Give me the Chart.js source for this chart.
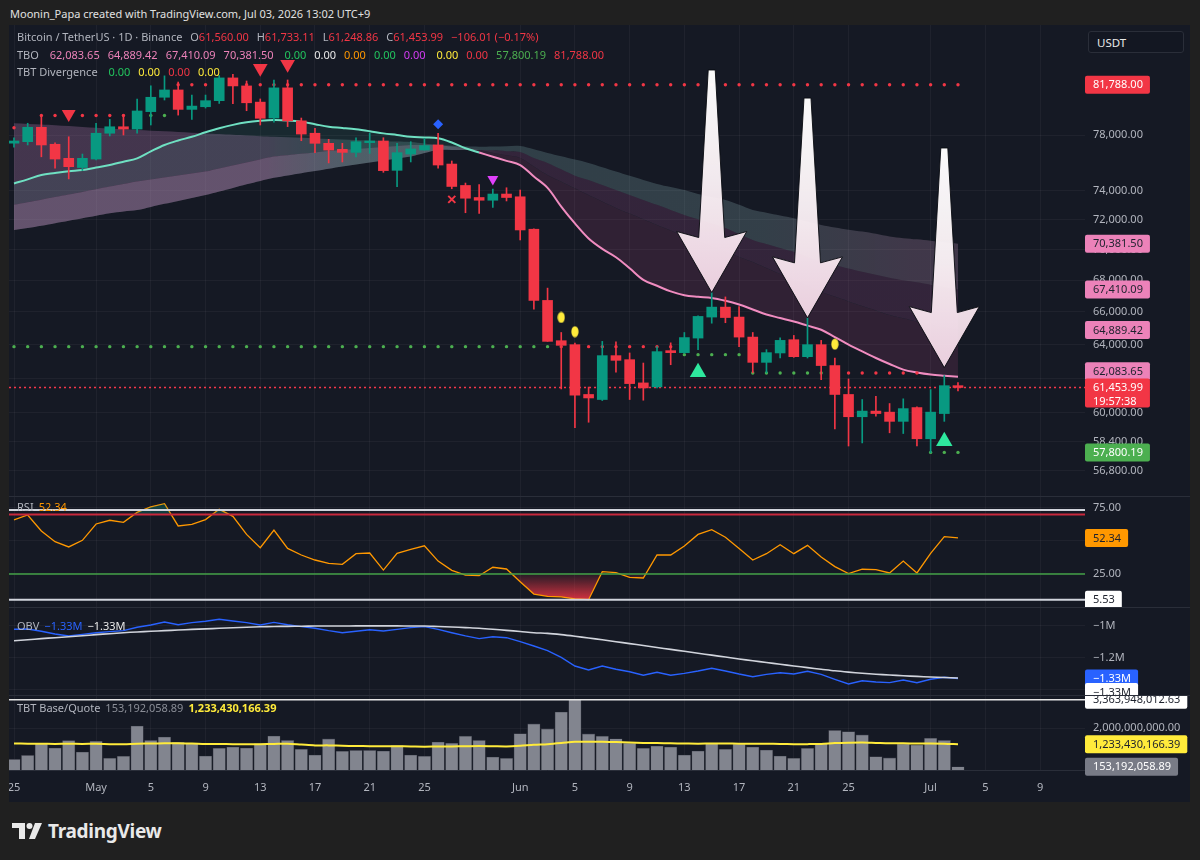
<!DOCTYPE html>
<html lang="en">
<head>
<meta charset="utf-8" />
<title>Bitcoin / TetherUS 1D - TBO</title>
<script src="https://cdn.jsdelivr.net/npm/chart.js@4.4.1/dist/chart.umd.min.js"></script>
<style>
    html, body { margin: 0; padding: 0; background: #202020; }
    #page { position: relative; width: 1200px; height: 860px; overflow: hidden; font-family: "Noto Sans", "DejaVu Sans", sans-serif; }
    .hdr { position: absolute; left: 10px; top: 6px; font-size: 11px; line-height: 16px; color: #e0e0e0; }
    #panel { position: absolute; left: 9px; top: 25px; width: 1181px; height: 777px; background: #151924; }
    canvas { position: absolute; left: 9px; }
    .sep { position: absolute; left: 9px; width: 1181px; height: 1px; background: #2a2e39; }
    .lg { position: absolute; left: 17px; font-size: 11px; line-height: 16px; color: #b2b5be; white-space: nowrap; z-index: 3; }
    .lg span { margin-left: 5px; }
    .lg.wide span { margin-left: 8px; }
    .lg span.n { margin-left: 0; }
    .r { color: #f23645; } .pk { color: #ec82b9; } .g { color: #22c55e; } .w { color: #e8e8e8; }
    .o { color: #ff9800; } .m { color: #d53cf5; } .y { color: #ffeb3b; } .gg { color: #4caf50; } .b { color: #2962ff; }
    .usdt { position: absolute; left: 1088px; top: 31px; width: 96px; height: 22px; border: 1px solid #2a2e39; border-radius: 3px;
            background: #131722; color: #e8e8e8; font-size: 11.5px; line-height: 22px; box-sizing: border-box; padding-left: 8px; z-index: 3; }
    .logo { position: absolute; left: 12px; top: 820px; height: 22px; display: flex; align-items: center; color: #e9e9e9;
            font-weight: 700; font-size: 19px; letter-spacing: -0.3px; }
    .logo svg { margin-right: 6px; }
</style>
</head>
<body>
<div id="page">
    <div class="hdr">Moonin_Papa created with TradingView.com, Jul 03, 2026 13:02 UTC+9</div>
    <div id="panel"></div>

    <canvas id="mainChart" width="1181" height="471" style="top:25px"></canvas>
    <div class="sep" style="top:496px"></div>
    <canvas id="rsiChart" width="1181" height="110" style="top:497px"></canvas>
    <div class="sep" style="top:607px"></div>
    <canvas id="obvChart" width="1181" height="87" style="top:608px"></canvas>
    <div class="sep" style="top:695px"></div>
    <canvas id="volChart" width="1181" height="106" style="top:696px"></canvas>

    <!-- legends -->
    <div class="lg" style="top:29px"><span class="n">Bitcoin / TetherUS · 1D · Binance</span>
        <span>O<b class="r" style="font-weight:400">61,560.00</b></span>
        <span>H<b class="r" style="font-weight:400">61,733.11</b></span>
        <span>L<b class="r" style="font-weight:400">61,248.86</b></span>
        <span>C<b class="r" style="font-weight:400">61,453.99</b></span>
        <span class="r">−106.01 (−0.17%)</span></div>
    <div class="lg wide" style="top:47px"><span class="n">TBO</span>
        <span class="pk">62,083.65</span><span class="pk">64,889.42</span><span class="pk">67,410.09</span><span class="pk">70,381.50</span>
        <span class="g">0.00</span><span class="w">0.00</span><span class="o">0.00</span><span class="g">0.00</span><span class="m">0.00</span>
        <span class="y">0.00</span><span class="r">0.00</span><span class="gg">57,800.19</span><span class="r">81,788.00</span></div>
    <div class="lg wide" style="top:64px"><span class="n">TBT Divergence</span>
        <span class="g">0.00</span><span class="y">0.00</span><span class="r">0.00</span><span class="y">0.00</span></div>
    <div class="lg" style="top:499px"><span class="n">RSI</span><span class="o">52.34</span></div>
    <div class="lg" style="top:618px"><span class="n">OBV</span><span class="b">−1.33M</span><span class="w">−1.33M</span></div>
    <div class="lg" style="top:700px"><span class="n">TBT Base/Quote</span><span style="color:#8a8d96">153,192,058.89</span><span class="y" style="font-weight:700">1,233,430,166.39</span></div>

    <div class="usdt">USDT</div>

    <div class="logo">
        <svg width="30" height="18" viewBox="0 0 30 18"><path d="M0 1h13v16H7V6H0z" fill="#e9e9e9"/><circle cx="17.5" cy="4" r="3" fill="#e9e9e9"/><path d="M23 1h7l-7 16h-6z" fill="#e9e9e9"/></svg>
        TradingView
    </div>
</div>

<script>
    // ---- date axis (bar index 0 = Apr 25) ----
    var dateTickIdx = [0, 6, 10, 14, 18, 22, 26, 30, 37, 41, 45, 49, 53, 57, 61, 67, 71, 75];
    var dateTickLabel = ['25', 'May', '5', '9', '13', '17', '21', '25', 'Jun', '5', '9', '13', '17', '21', '25', 'Jul', '5', '9'];

    // ---- daily candles ----
    var openPx = [77400, 77510, 78570, 77320, 76300, 75640, 76250, 78130, 78610, 78440,
        79740, 80830, 81390, 79910, 80110, 80570, 82320, 81700, 80460, 79260,
        81550, 79050, 78130, 77390, 76950, 76730, 77440, 77560, 75440, 76610,
        76900, 77270, 75890, 74370, 73530, 73340, 73770, 73580, 71360, 66720,
        64230, 63990, 61050, 60760, 63330, 63090, 61720, 61490, 63630, 63510,
        64390, 65680, 66300, 65680, 64450, 62930, 63490, 64290, 63270, 63990,
        62740, 61050, 59780, 60100, 60040, 59520, 60300, 58550, 59960, 61560];
    var highPx = [77800, 78870, 79480, 77430, 77870, 76610, 78870, 79160, 79530, 80700,
        81710, 82480, 82000, 81000, 81000, 82500, 82600, 82080, 80700, 82160,
        82160, 79260, 78500, 77680, 77390, 77800, 78130, 77800, 77390, 77510,
        77750, 78130, 76110, 74540, 74440, 74120, 74210, 74050, 71380, 67500,
        64730, 64090, 61480, 64190, 64160, 63490, 62890, 63870, 64100, 64730,
        65760, 67220, 66940, 66340, 64730, 63690, 64400, 64550, 65630, 64250,
        63190, 61950, 60760, 60950, 60530, 60800, 60340, 61330, 62150, 61733.11];
    var lowPx = [77100, 77270, 76410, 75590, 74830, 75430, 76180, 77930, 78000, 78130,
        78740, 80620, 79480, 79160, 80010, 80360, 80340, 79810, 78740, 78960,
        78620, 77580, 76710, 75970, 76040, 76410, 76660, 75300, 74290, 76040,
        76900, 75590, 74140, 72480, 72440, 72840, 73290, 70640, 66170, 64190,
        61370, 59160, 59470, 60700, 62350, 60760, 60720, 61430, 62790, 63470,
        63690, 65300, 65330, 63870, 62310, 62310, 63190, 63230, 63190, 61910,
        59100, 58150, 58320, 59810, 58880, 58840, 58150, 57780, 59520, 61248.86];
    var closePx = [77560, 78570, 77270, 76250, 75700, 76300, 78130, 78610, 78440, 79790,
        80830, 81390, 79910, 80160, 80570, 82320, 81700, 80410, 79240, 81550,
        79050, 78070, 77390, 76900, 76730, 77510, 77560, 75420, 76710, 76980,
        77220, 75820, 74300, 73480, 73340, 73770, 73530, 71310, 66720, 64190,
        63950, 61010, 60850, 63330, 63050, 61680, 61430, 63570, 63510, 64420,
        65720, 66300, 65650, 64450, 62930, 63510, 64250, 63270, 63990, 62740,
        61050, 59780, 60100, 59960, 59520, 60240, 58550, 60040, 61560, 61453.99];

    // ---- TBO ribbon lines ----
    var tboFast = [74510, 74800, 75110, 75250, 75380, 75460, 75640, 75820, 76050, 76300,
        76800, 77270, 77600, 77870, 78200, 78500, 78750, 78940, 79050, 79110,
        79080, 78990, 78800, 78610, 78520, 78420, 78280, 78120, 78000, 77870,
        77820, 77760, 77450, 77030, 76720, 76420, 76120, 75820, 75000, 74200,
        72900, 71750, 70740, 70050, 69500, 68780, 68030, 67650, 67290, 67050,
        66950, 66880, 66700, 66460, 66150, 65840, 65620, 65400, 65150, 64900,
        64450, 63990, 63580, 63190, 62830, 62500, 62330, 62210, 62140, 62083.65];
    var tboMed = [73020, 73200, 73380, 73560, 73740, 73920, 74110, 74290, 74470, 74650,
        74790, 74930, 75080, 75220, 75350, 75570, 75790, 76000, 76220, 76430,
        76530, 76630, 76730, 76830, 76900, 76980, 77050, 77120, 77190, 77270,
        77270, 77270, 77150, 77030, 76900, 76710, 76520, 76330, 75720, 75110,
        74640, 74170, 73700, 73250, 72810, 72420, 72030, 71650, 71280, 70910,
        70550, 70200, 69850, 69520, 69190, 68800, 68410, 68030, 67640, 67250,
        66960, 66660, 66370, 66090, 65810, 65610, 65400, 65200, 65040, 64889.42];
    var tboSlow = [71310, 71450, 71600, 71770, 71940, 72110, 72280, 72450, 72570, 72670,
        72880, 73090, 73290, 73500, 73700, 73950, 74200, 74450, 74690, 74910,
        75080, 75240, 75390, 75550, 75710, 75860, 76000, 76140, 76290, 76430,
        76680, 76900, 76900, 76900, 76900, 76880, 76820, 76750, 76320, 75970,
        75510, 75060, 74750, 74400, 74050, 73700, 73360, 73020, 72670, 72330,
        72040, 71750, 71450, 71040, 70640, 70370, 70110, 69850, 69520, 69190,
        68970, 68760, 68550, 68360, 68170, 68010, 67870, 67720, 67560, 67410.09];
    var tboSlowest = [78870, 78820, 78770, 78720, 78660, 78600, 78540, 78480, 78420, 78370,
        78320, 78270, 78220, 78170, 78120, 78070, 78010, 77960, 77910, 77870,
        77830, 77790, 77750, 77710, 77670, 77630, 77590, 77550, 77520, 77490,
        77380, 77270, 77220, 77170, 77140, 77160, 77180, 77190, 76950, 76690,
        76450, 76210, 75970, 75660, 75350, 75050, 74760, 74480, 74260, 74050,
        73780, 73560, 73360, 73020, 72670, 72480, 72290, 72110, 71880, 71650,
        71480, 71330, 71200, 71050, 70870, 70760, 70680, 70580, 70480, 70381.5];

    // ---- TBO stepped levels (dots); side: r = resistance, g = support ----
    var upperLevel = [78540, null, 79450, 79450, 79450, 79450, 79450, 79450, 79450, 79450,
        79450, 79450, 81788, 81788, 81788, 81788, 81788, 81788, 81788, 81788,
        81788, 81788, 81788, 81788, 81788, 81788, 81788, 81788, 81788, 81788,
        81788, 81788, 81788, 81788, 81788, 81788, 81788, 81788, 81788, 81788,
        81788, 81788, 81788, 81788, 81788, 81788, 81788, 81788, 81788, 81788,
        81788, 81788, 81788, 81788, 81788, 81788, 81788, 81788, 81788, 81788,
        81788, 81788, 81788, 81788, 81788, 81788, 81788, 81788, 81788, 81788];
    var upperSide = ['r', 'r', 'r', 'r', 'r', 'r', 'r', 'r', 'r', 'g',
        'g', 'g', 'r', 'r', 'r', 'r', 'r', 'r', 'r', 'r',
        'r', 'r', 'r', 'r', 'r', 'r', 'r', 'r', 'r', 'r',
        'r', 'r', 'r', 'r', 'r', 'r', 'r', 'r', 'r', 'r',
        'r', 'r', 'r', 'r', 'r', 'r', 'r', 'r', 'r', 'r',
        'r', 'r', 'r', 'r', 'r', 'r', 'r', 'r', 'r', 'r',
        'r', 'r', 'r', 'r', 'r', 'r', 'r', 'r', 'r', 'r'];
    var lowerLevel = [63870, 63870, 63870, 63870, 63870, 63870, 63870, 63870, 63870, 63870,
        63870, 63870, 63870, 63870, 63870, 63870, 63870, 63870, 63870, 63870,
        63870, 63870, 63870, 63870, 63870, 63870, 63870, 63870, 63870, 63870,
        63870, 63870, 63870, 63870, 63870, 63870, 63870, 63870, 63870, 63870,
        63870, 63870, 63870, 63870, 63870, 63870, 63870, 63870, 63870, 63390,
        63390, 63390, 63390, 63390, 62300, 62300, 62300, 62300, 62300, 62300,
        62300, 62300, 62300, 62300, 62300, 62300, 62300, 57800.19, 57800.19, 57800.19];
    var lowerSide = ['g', 'g', 'g', 'g', 'g', 'g', 'g', 'g', 'g', 'g',
        'g', 'g', 'g', 'g', 'g', 'g', 'g', 'g', 'g', 'g',
        'g', 'g', 'g', 'g', 'g', 'g', 'g', 'g', 'g', 'g',
        'g', 'g', 'g', 'g', 'g', 'g', 'g', 'g', 'g', 'g',
        'r', 'r', 'r', 'r', 'r', 'r', 'r', 'r', 'r', 'g',
        'g', 'g', 'g', 'g', 'g', 'g', 'g', 'g', 'g', 'g',
        'r', 'r', 'r', 'r', 'r', 'r', 'r', 'g', 'g', 'g'];

    // ---- signal markers ----
    var markerIdx = [4, 18, 20, 31, 32, 35, 40, 41, 50, 60, 68];
    var markerPrice = [79560, 83070, 83380, 78790, 73400, 74810, 65660, 64780, 62340, 64020, 58410];
    var markerKind = ['sellSmall', 'sell', 'sell', 'diamond', 'cross', 'magenta', 'oval', 'oval', 'buy', 'oval', 'buy'];

    // ---- hand-drawn arrows (bar index, price at tail, price at tip) ----
    var arrowIdx = [51, 58, 68];
    var arrowTail = [82940, 80770, 77050];
    var arrowTip = [67220, 65630, 62620];

    var priceTicks = [78000, 74000, 72000, 70000, 68000, 66000, 64000, 62000, 60000, 58400, 56800];

    // ---- RSI ----
    var rsi = [66.0, 69.7, 57.6, 49.5, 45.5, 50.5, 62.9, 65.7, 64.1, 71.7,
        75.8, 78.3, 61.4, 62.6, 66.2, 74.0, 68.7, 55.0, 44.9, 58.3,
        44.4, 39.4, 35.6, 33.1, 32.3, 40.4, 40.9, 28.0, 40.7, 43.7,
        46.4, 34.8, 27.8, 24.2, 23.7, 30.1, 28.8, 19.2, 9.8, 8.1,
        7.6, 6.1, 5.53, 26.8, 26.0, 22.5, 22.0, 39.4, 39.4, 46.2,
        55.0, 58.6, 52.8, 44.4, 35.6, 40.4, 47.2, 40.4, 46.7, 37.9,
        30.6, 25.3, 28.6, 28.3, 25.8, 34.8, 25.8, 40.7, 53.3, 52.34];
    var rsiBands = [73.5, 70, 25];

    // ---- OBV (millions) ----
    var obv = [-1.022, -1.021, -1.035, -1.052, -1.064, -1.054, -1.044, -1.037, -1.031, -1.010,
        -0.996, -0.977, -0.994, -0.981, -0.972, -0.960, -0.971, -0.981, -0.996, -0.979,
        -0.994, -1.006, -1.016, -1.031, -1.044, -1.035, -1.025, -1.033, -1.023, -1.012,
        -1.006, -1.023, -1.044, -1.064, -1.081, -1.069, -1.075, -1.100, -1.127, -1.156,
        -1.198, -1.252, -1.277, -1.252, -1.272, -1.288, -1.310, -1.291, -1.310, -1.298,
        -1.283, -1.266, -1.283, -1.302, -1.319, -1.304, -1.294, -1.302, -1.285, -1.304,
        -1.335, -1.364, -1.344, -1.352, -1.356, -1.339, -1.356, -1.335, -1.322, -1.330];
    var obvMa = [-1.094, -1.088, -1.081, -1.075, -1.069, -1.063, -1.056, -1.050, -1.044, -1.039,
        -1.035, -1.031, -1.027, -1.023, -1.020, -1.016, -1.013, -1.010, -1.007, -1.005,
        -1.004, -1.003, -1.002, -1.002, -1.002, -1.001, -1.001, -1.001, -1.001, -1.002,
        -1.002, -1.005, -1.008, -1.012, -1.016, -1.022, -1.029, -1.036, -1.044, -1.048,
        -1.056, -1.066, -1.077, -1.088, -1.100, -1.112, -1.124, -1.136, -1.148, -1.160,
        -1.172, -1.184, -1.196, -1.208, -1.219, -1.230, -1.241, -1.252, -1.262, -1.272,
        -1.282, -1.290, -1.297, -1.303, -1.308, -1.313, -1.317, -1.321, -1.324, -1.327];

    // ---- TBT Base/Quote volume (billions) ----
    var volume = [0.51, 0.70, 1.27, 1.05, 1.41, 0.86, 1.38, 0.56, 0.66, 2.11,
        1.42, 1.58, 1.33, 1.29, 0.67, 1.04, 1.10, 1.05, 1.27, 1.63,
        1.42, 0.99, 0.72, 1.49, 0.90, 0.94, 0.94, 0.91, 1.18, 0.72,
        0.66, 1.34, 1.28, 1.62, 1.42, 0.62, 0.56, 1.74, 2.21, 1.97,
        2.78, 3.36394801263, 1.73, 1.62, 1.50, 1.28, 1.04, 1.15, 1.10, 0.72,
        0.91, 1.27, 0.99, 1.25, 1.10, 0.96, 0.67, 0.56, 1.04, 1.27,
        1.90, 1.84, 1.68, 0.64, 0.58, 1.25, 1.20, 1.52, 1.42, 0.15319205889];
    var volMa = [1.27, 1.26, 1.26, 1.25, 1.26, 1.25, 1.26, 1.24, 1.23, 1.26,
        1.27, 1.28, 1.28, 1.27, 1.25, 1.25, 1.24, 1.24, 1.24, 1.25,
        1.26, 1.22, 1.18, 1.18, 1.16, 1.15, 1.14, 1.14, 1.14, 1.13,
        1.12, 1.13, 1.13, 1.14, 1.15, 1.14, 1.13, 1.16, 1.21, 1.24,
        1.29, 1.35, 1.36, 1.35, 1.34, 1.32, 1.30, 1.29, 1.28, 1.27,
        1.26, 1.27, 1.27, 1.26, 1.26, 1.26, 1.25, 1.24, 1.24, 1.25,
        1.29, 1.31, 1.32, 1.30, 1.28, 1.28, 1.27, 1.27, 1.26, 1.23343016639];

    // ================= drawing =================
    var FONT = '"Noto Sans", "DejaVu Sans", sans-serif';
    var GRID = 'rgba(255,255,255,0.045)';
    var TICK = '#b2b5be';
    var UP = '#089981', DOWN = '#f23645';
    var TEAL = '#6fe0c2', PINK = '#f08cc0';
    var AXIS_W = 105;
    var X_MIN = -0.3655, X_MAX = 78.284;

    Chart.defaults.font.family = FONT;
    Chart.defaults.color = TICK;

    var fmt2 = function (v) { return v.toLocaleString('en-US', { minimumFractionDigits: 2, maximumFractionDigits: 2 }); };
    var pts = function (arr) { return arr.map(function (v, i) { return { x: i, y: v }; }); };
    var flat = function (v) { return [{ x: X_MIN, y: v }, { x: X_MAX, y: v }]; };

    function xAxis(showLabels) {
        return {
            type: 'linear', min: X_MIN, max: X_MAX, offset: false,
            grid: { color: GRID, drawTicks: false, offset: false },
            border: { display: showLabels, color: '#2a2e39' },
            ticks: {
                display: showLabels, autoSkip: false, maxRotation: 0, padding: 11,
                font: { size: 11 }, color: TICK,
                callback: function (v) { var k = dateTickIdx.indexOf(v); return k < 0 ? '' : dateTickLabel[k]; }
            },
            afterBuildTicks: function (s) { s.ticks = dateTickIdx.map(function (v) { return { value: v }; }); },
            afterFit: function (s) {
                s.height = showLabels ? 32 : 0;
                s.paddingLeft = 0; s.paddingRight = 0;
            }
        };
    }

    function yAxis(extra, ticks, fmt) {
        return Object.assign({
            position: 'right', bounds: 'data',
            grid: { color: GRID, drawTicks: false },
            border: { display: false },
            ticks: { autoSkip: false, padding: 8, font: { size: 11 }, color: TICK, callback: fmt },
            afterBuildTicks: function (s) { s.ticks = ticks.map(function (v) { return { value: v }; }); },
            afterFit: function (s) {
                s.width = AXIS_W;
                s.paddingTop = 0; s.paddingBottom = 0;
            }
        }, extra);
    }

    var baseOptions = function (scales) {
        return {
            responsive: false, animation: false, events: [], devicePixelRatio: 1,
            layout: { padding: 0, autoPadding: false },
            plugins: { legend: { display: false }, tooltip: { enabled: false } },
            scales: scales
        };
    };

    // price / value tags drawn on the right axis
    function tagPlugin(tags) {
        return {
            id: 'axisTags',
            afterDraw: function (chart) {
                var ctx = chart.ctx, ys = chart.scales.y;
                ctx.save();
                ctx.font = '11px ' + FONT;
                ctx.textBaseline = 'middle';
                ctx.textAlign = 'left';
                tags.forEach(function (t) {
                    var yc = ys.getPixelForValue(t.value) + (t.dy || 0);
                    var w = ctx.measureText(t.text).width + 15;
                    var h = t.sub ? 29 : 18;
                    ctx.fillStyle = t.bg;
                    ctx.beginPath();
                    ctx.roundRect(ys.left, yc - 9, w, h, 2);
                    ctx.fill();
                    ctx.fillStyle = t.fg;
                    ctx.fillText(t.text, ys.left + 8, yc + 0.5);
                    if (t.sub) ctx.fillText(t.sub, ys.left + 8, yc + 14);
                });
                ctx.restore();
            }
        };
    }

    // the three white call-out arrows
    var arrowPlugin = {
        id: 'arrowNotes',
        afterDatasetsDraw: function (chart) {
            var ctx = chart.ctx, x = chart.scales.x, y = chart.scales.y;
            ctx.save();
            arrowIdx.forEach(function (bar, k) {
                var cx = x.getPixelForValue(bar);
                var top = y.getPixelForValue(arrowTail[k]);
                var tip = y.getPixelForValue(arrowTip[k]);
                var base = tip - 58;
                ctx.beginPath();
                ctx.moveTo(cx - 3.5, top);
                ctx.lineTo(cx + 3.5, top);
                ctx.lineTo(cx + 13, base + 3);
                ctx.lineTo(cx + 35, base - 3);
                ctx.lineTo(cx, tip);
                ctx.lineTo(cx - 35, base - 3);
                ctx.lineTo(cx - 13, base + 3);
                ctx.closePath();
                var g = ctx.createLinearGradient(0, top, 0, tip);
                g.addColorStop(0, 'rgba(255,255,255,0.98)');
                g.addColorStop(0.5, 'rgba(255,246,250,0.94)');
                g.addColorStop(1, 'rgba(250,222,236,0.92)');
                ctx.fillStyle = g;
                ctx.fill();
                ctx.lineWidth = 1;
                ctx.strokeStyle = 'rgba(8,10,16,0.9)';
                ctx.stroke();
            });
            ctx.restore();
        }
    };

    // ---------- main price pane ----------
    var mainEl = document.getElementById('mainChart');
    var mctx = mainEl.getContext('2d');
    var W = 1181 - AXIS_W;

    var gTop = mctx.createLinearGradient(0, 0, W, 0);
    gTop.addColorStop(0, 'rgba(160,110,160,0.34)');
    gTop.addColorStop(0.24, 'rgba(160,110,160,0.34)');
    gTop.addColorStop(0.32, 'rgba(110,160,160,0.28)');
    gTop.addColorStop(0.70, 'rgba(140,175,180,0.26)');
    gTop.addColorStop(0.84, 'rgba(195,150,185,0.25)');
    gTop.addColorStop(1, 'rgba(195,150,185,0.25)');
    var gMid = mctx.createLinearGradient(0, 0, W, 0);
    gMid.addColorStop(0, 'rgba(190,185,205,0.28)');
    gMid.addColorStop(0.40, 'rgba(190,185,205,0.28)');
    gMid.addColorStop(0.46, 'rgba(160,80,140,0.22)');
    gMid.addColorStop(1, 'rgba(160,80,140,0.22)');

    var ovalImg = document.createElement('canvas');
    ovalImg.width = 8; ovalImg.height = 12;
    var oc = ovalImg.getContext('2d');
    oc.fillStyle = '#ffeb3b';
    oc.beginPath(); oc.ellipse(4, 6, 3.6, 5.6, 0, 0, Math.PI * 2); oc.fill();

    var markerStyle = {
        sellSmall: { style: 'triangle', r: 8, rot: 180, fill: '#f23645', bw: 0 },
        sell: { style: 'triangle', r: 8.5, rot: 180, fill: '#f23645', bw: 0 },
        diamond: { style: 'rectRot', r: 5, rot: 0, fill: '#2962ff', bw: 0 },
        cross: { style: 'crossRot', r: 5, rot: 0, fill: '#f23645', bw: 2 },
        magenta: { style: 'triangle', r: 6.3, rot: 180, fill: '#e040fb', bw: 0 },
        oval: { style: ovalImg, r: 5, rot: 0, fill: '#ffeb3b', bw: 0 },
        buy: { style: 'triangle', r: 9.5, rot: 0, fill: '#2ee89e', bw: 0 }
    };
    var ms = markerKind.map(function (k) { return markerStyle[k]; });

    var candleColor = closePx.map(function (c, i) { return c >= openPx[i] ? UP : DOWN; });
    var dotR = '#f23645', dotG = '#4caf50';

    new Chart(mainEl, {
        type: 'bar',
        data: {
            datasets: [
                { type: 'line', data: pts(tboSlowest), borderWidth: 0, pointRadius: 0, tension: 0.35,
                  fill: { target: 1, above: gTop, below: gTop }, order: 10 },
                { type: 'line', data: pts(tboSlow), borderWidth: 0, pointRadius: 0, tension: 0.35,
                  fill: { target: 2, above: gMid, below: gMid }, order: 10 },
                { type: 'line', data: pts(tboMed), borderWidth: 0, pointRadius: 0, tension: 0.35, fill: false, order: 10 },
                { type: 'line', data: pts(tboFast), borderWidth: 2, pointRadius: 0, tension: 0.35, borderColor: TEAL,
                  segment: { borderColor: function (c) { return c.p0DataIndex < 34 ? TEAL : PINK; } },
                  fill: { target: 2, above: 'rgba(70,190,160,0.10)', below: 'rgba(170,70,130,0.18)' }, order: 8 },
                { type: 'line', data: flat(closePx[closePx.length - 1]), borderColor: '#f5364a', borderWidth: 1.5,
                  borderDash: [2, 3], pointRadius: 0, order: 9 },
                { type: 'line', data: pts(upperLevel), showLine: false, pointRadius: 1.7, pointBorderWidth: 0,
                  pointBackgroundColor: upperSide.map(function (s) { return s === 'g' ? dotG : dotR; }), order: 7 },
                { type: 'line', data: pts(lowerLevel), showLine: false, pointRadius: 1.7, pointBorderWidth: 0,
                  pointBackgroundColor: lowerSide.map(function (s) { return s === 'g' ? dotG : dotR; }), order: 7 },
                { type: 'bar', data: closePx.map(function (c, i) { return { x: i, y: [lowPx[i], highPx[i]] }; }),
                  backgroundColor: candleColor, barThickness: 1, grouped: false, order: 2 },
                { type: 'bar', data: closePx.map(function (c, i) { return { x: i, y: [openPx[i], c] }; }),
                  backgroundColor: candleColor, barThickness: 10, grouped: false, minBarLength: 1.5, order: 1 },
                { type: 'line', data: markerIdx.map(function (v, k) { return { x: v, y: markerPrice[k] }; }),
                  showLine: false, order: 0,
                  pointStyle: ms.map(function (s) { return s.style; }),
                  pointRadius: ms.map(function (s) { return s.r; }),
                  pointRotation: ms.map(function (s) { return s.rot; }),
                  pointBackgroundColor: ms.map(function (s) { return s.fill; }),
                  pointBorderColor: ms.map(function (s) { return s.fill; }),
                  pointBorderWidth: ms.map(function (s) { return s.bw; }) }
            ]
        },
        options: baseOptions({
            x: xAxis(false),
            y: yAxis({ type: 'logarithmic', min: 55469, max: 86538 }, priceTicks, fmt2)
        }),
        plugins: [arrowPlugin, tagPlugin([
            { value: upperLevel[69], text: fmt2(upperLevel[69]), bg: '#f23645', fg: '#ffffff' },
            { value: tboSlowest[69], text: fmt2(tboSlowest[69]), bg: '#ec82b9', fg: '#1e222d' },
            { value: tboSlow[69], text: fmt2(tboSlow[69]), bg: '#ec82b9', fg: '#1e222d' },
            { value: tboMed[69], text: fmt2(tboMed[69]), bg: '#ec82b9', fg: '#1e222d' },
            { value: tboFast[69], text: fmt2(tboFast[69]), bg: '#ec82b9', fg: '#1e222d', dy: -5.5 },
            { value: closePx[69], text: fmt2(closePx[69]), sub: '19:57:38', bg: '#f23645', fg: '#ffffff' },
            { value: lowerLevel[69], text: fmt2(lowerLevel[69]), bg: '#4caf50', fg: '#ffffff' }
        ])]
    });

    // ---------- RSI pane ----------
    var rsiEl = document.getElementById('rsiChart');
    var rctx = rsiEl.getContext('2d');
    var oversold = rctx.createLinearGradient(0, 77, 0, 104);
    oversold.addColorStop(0, 'rgba(242,54,69,0.08)');
    oversold.addColorStop(1, 'rgba(242,54,69,0.9)');
    var rsiLow = Math.min.apply(null, rsi);

    new Chart(rsiEl, {
        type: 'line',
        data: {
            datasets: [
                { data: flat(rsiBands[0]), borderColor: '#d1d4dc', borderWidth: 2, pointRadius: 0 },
                { data: flat(rsiBands[1]), borderColor: '#c8283c', borderWidth: 2, pointRadius: 0 },
                { data: flat(rsiBands[2]), borderColor: '#43a047', borderWidth: 1.3, pointRadius: 0 },
                { data: flat(rsiLow), borderColor: '#d1d4dc', borderWidth: 2, pointRadius: 0 },
                { data: pts(rsi), borderWidth: 0, pointRadius: 0,
                  fill: { target: { value: rsiBands[1] }, above: 'rgba(8,153,129,0.28)', below: 'rgba(0,0,0,0)' } },
                { data: pts(rsi), borderColor: '#ff9800', borderWidth: 1.3, pointRadius: 0,
                  fill: { target: { value: rsiBands[2] }, above: 'rgba(0,0,0,0)', below: oversold } }
            ]
        },
        options: baseOptions({ x: xAxis(false), y: yAxis({ min: 0, max: 83.33 }, [75, 50, 25], fmt2) }),
        plugins: [tagPlugin([
            { value: rsi[69], text: fmt2(rsi[69]), bg: '#ff9800', fg: '#1e222d' },
            { value: rsiLow, text: fmt2(rsiLow), bg: '#ffffff', fg: '#1e222d' }
        ])]
    });

    // ---------- OBV pane ----------
    var fmtM = function (v) { return (v < 0 ? '−' : '') + Math.abs(v).toString() + 'M'; };
    new Chart(document.getElementById('obvChart'), {
        type: 'line',
        data: {
            datasets: [
                { data: pts(obvMa), borderColor: '#d1d4dc', borderWidth: 1.6, pointRadius: 0, tension: 0.3 },
                { data: pts(obv), borderColor: '#2962ff', borderWidth: 1.4, pointRadius: 0 }
            ]
        },
        options: baseOptions({ x: xAxis(false), y: yAxis({ min: -1.4331, max: -0.8894 }, [-1, -1.2, -1.4], fmtM) }),
        plugins: [tagPlugin([
            { value: obv[69], text: '−' + Math.abs(obv[69]).toFixed(2) + 'M', bg: '#2962ff', fg: '#ffffff' },
            { value: obvMa[69], text: '−' + Math.abs(obvMa[69]).toFixed(2) + 'M', bg: '#ffffff', fg: '#1e222d', dy: 14 }
        ])]
    });

    // ---------- TBT Base/Quote pane + time axis ----------
    var fmtB = function (v) { return fmt2(v * 1e9); };
    var volMax = Math.max.apply(null, volume);
    new Chart(document.getElementById('volChart'), {
        type: 'bar',
        data: {
            datasets: [
                { type: 'line', data: flat(volMax), borderColor: '#e6e6e6', borderWidth: 1.6, pointRadius: 0, order: 0 },
                { type: 'line', data: pts(volMa), borderColor: '#ffeb3b', borderWidth: 2, pointRadius: 0, tension: 0.3, order: 0 },
                { type: 'bar', data: pts(volume), backgroundColor: '#82858f', borderColor: '#3a3d47', borderWidth: 0.6,
                  barThickness: 12.5, grouped: false, order: 1 }
            ]
        },
        options: baseOptions({ x: xAxis(true), y: yAxis({ min: 0, max: 3.547 }, [2], fmtB) }),
        plugins: [tagPlugin([
            { value: volMax, text: fmtB(volMax), bg: '#ffffff', fg: '#1e222d' },
            { value: volMa[69], text: fmtB(volMa[69]), bg: '#ffeb3b', fg: '#1e222d' },
            { value: volume[69], text: fmtB(volume[69]), bg: '#787b86', fg: '#ffffff' }
        ])]
    });
</script>
</body>
</html>
